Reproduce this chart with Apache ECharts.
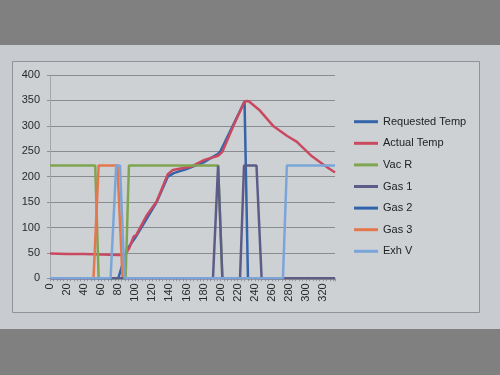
<!DOCTYPE html>
<html>
<head>
<meta charset="utf-8">
<script src="https://cdn.jsdelivr.net/npm/echarts@6/dist/echarts.min.js"></script>
<style>html,body{margin:0;padding:0;background:#808080;}#c{width:500px;height:375px;}</style>
</head>
<body>
<div id="c"></div>
<script>
const seriesNames = ['Requested Temp','Actual Temp','Vac R','Gas 1','Gas 2','Gas 3','Exh V'];
const xTickLabels = [0,20,40,60,80,100,120,140,160,180,200,220,240,260,280,300,320];
const yTickLabels = [0,50,100,150,200,250,300,350,400];

const reqTempX = [0, 80, 90, 100, 115, 125, 138, 145, 160, 180, 197, 200, 228, 232, 334];
const reqTempY = [0, 0, 56, 80, 122, 150, 200, 207, 215, 228, 245, 251, 348, 0, 0];

const actTempX = [0, 20, 40, 60, 80, 88, 93, 98, 101, 113, 125, 138, 144, 150, 166, 181, 197, 202, 215, 228, 231, 234, 246, 262, 278, 289, 307, 321, 334];
const actTempY = [49, 48, 48, 47, 46, 46, 60, 82, 85, 123, 151, 205, 213, 215, 220, 233, 241, 249, 300, 348, 349, 347, 330, 299, 280, 269, 240, 223, 208];

const vacRX = [0, 53, 57, 88.6, 92.5, 197, 202, 334];
const vacRY = [222, 222, 0, 0, 222, 222, 0, 0];

const gas1X = [0, 191, 197, 202, 222.7, 227.4, 242, 248, 334];
const gas1Y = [0, 0, 222, 0, 0, 222, 222, 0, 0];

const gas2X = [0, 334];
const gas2Y = [0, 0];

const gas3X = [0, 51, 57, 79, 85, 334];
const gas3Y = [0, 0, 222, 222, 0, 0];

const exhVX = [0, 71, 77.6, 82, 87.4, 273, 277.6, 334];
const exhVY = [0, 0, 222, 222, 0, 0, 222, 222];

const colors = ['#3565a8', '#c94a60', '#80a552', '#5d5c88', '#2f63ab', '#e5774f', '#7ba5d8'];
const zs = [2, 2, 2, 3, 2, 2, 4];

const xs = [reqTempX, actTempX, vacRX, gas1X, gas2X, gas3X, exhVX];
const ys = [reqTempY, actTempY, vacRY, gas1Y, gas2Y, gas3Y, exhVY];

const FONT = 'Liberation Sans, Arial, sans-serif';
const chart = echarts.init(document.getElementById('c'), null, {renderer: 'canvas'});
chart.setOption({
  animation: false,
  backgroundColor: '#808080',
  graphic: [
    {type: 'rect', z: -10, silent: true, shape: {x: 0, y: 45, width: 500, height: 284}, style: {fill: '#c8ccd0'}},
    {type: 'rect', z: -9, silent: true, shape: {x: 12.5, y: 61.5, width: 467, height: 251}, style: {fill: '#cdd1d4', stroke: '#8f9396', lineWidth: 1}}
  ],
  grid: {left: 50, right: 165, top: 75, bottom: 96.7},
  legend: {
    orient: 'vertical', left: 354, top: 114.7, padding: 0,
    icon: 'rect', itemWidth: 24, itemHeight: 3, itemGap: 7.6,
    textStyle: {fontSize: 11, lineHeight: 14, color: '#222', fontFamily: FONT},
    data: seriesNames
  },
  xAxis: {
    type: 'value', min: 0, max: 334, interval: 20,
    axisLine: {show: true, lineStyle: {color: '#8e97a2', width: 1}},
    axisTick: {show: true, length: 3, lineStyle: {color: '#8e97a2'}},
    minorTick: {show: true, splitNumber: 5, length: 3, lineStyle: {color: '#8e97a2'}},
    splitLine: {show: false},
    axisLabel: {
      rotate: 90, fontSize: 11, color: '#2a2a2a', fontFamily: FONT, margin: 5,
      showMaxLabel: false,
      formatter: v => xTickLabels.indexOf(v) >= 0 ? String(v) : ''
    }
  },
  yAxis: {
    type: 'value', min: 0, max: 400, interval: 50,
    axisLine: {show: true, lineStyle: {color: '#a3a7ab', width: 1}},
    axisTick: {show: true, length: 3, lineStyle: {color: '#8a8d90'}},
    splitLine: {show: true, lineStyle: {color: '#8a8d90', width: 1}},
    axisLabel: {
      fontSize: 11, color: '#2a2a2a', fontFamily: FONT, margin: 10,
      formatter: v => yTickLabels.indexOf(v) >= 0 ? String(v) : ''
    }
  },
  series: seriesNames.map((name, i) => ({
    name: name, type: 'line', symbol: 'none', z: zs[i],
    color: colors[i],
    lineStyle: {width: 2.5, color: colors[i]},
    data: xs[i].map((x, j) => [x, ys[i][j]])
  }))
});
</script>
</body>
</html>
